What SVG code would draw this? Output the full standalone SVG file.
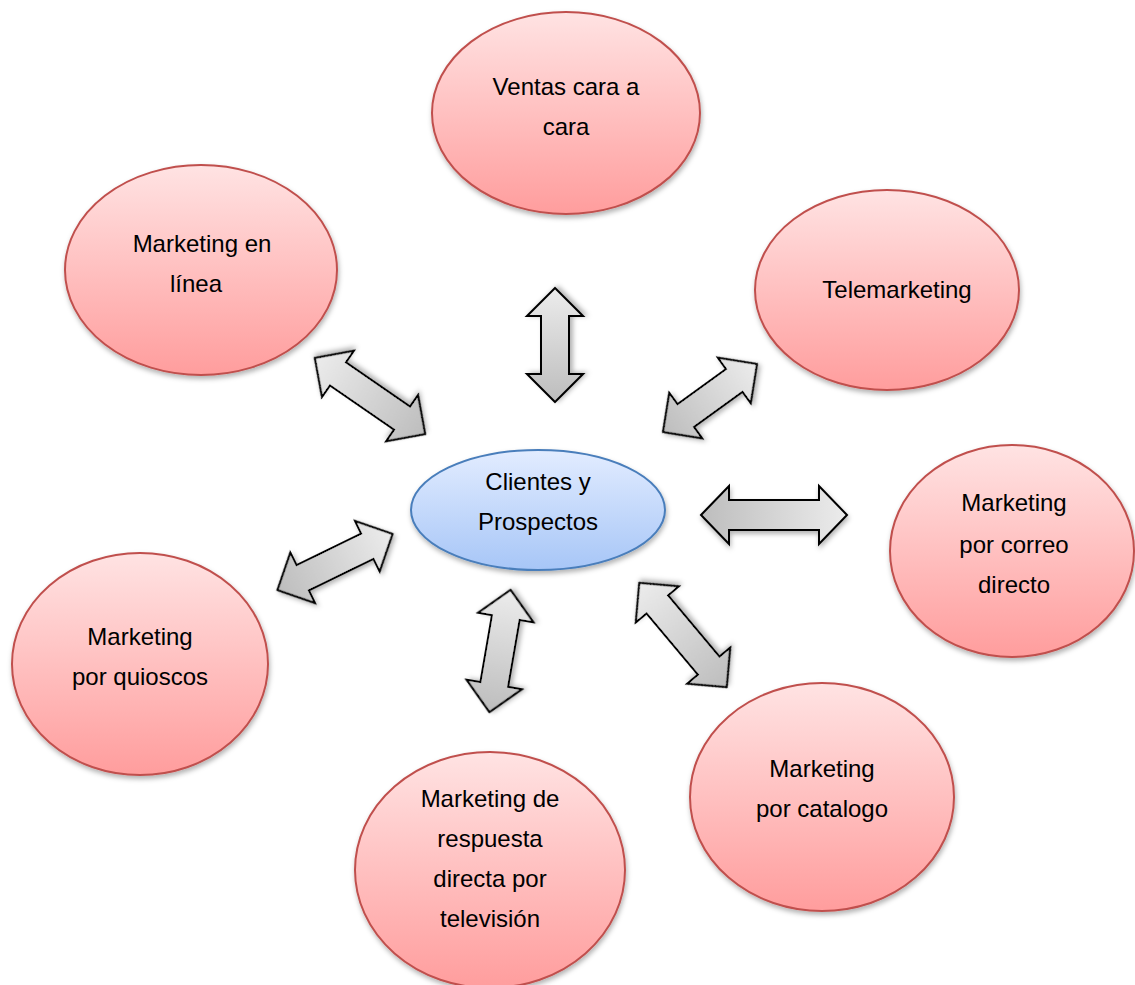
<svg xmlns="http://www.w3.org/2000/svg" width="1135" height="985" viewBox="0 0 1135 985">
<defs>
<linearGradient id="gRed" x1="0" y1="0" x2="0" y2="1">
<stop offset="0" stop-color="#ffe3e3"/>
<stop offset="1" stop-color="#ff9d9d"/>
</linearGradient>
<linearGradient id="gBlue" x1="0" y1="0" x2="0" y2="1">
<stop offset="0" stop-color="#e2ecff"/>
<stop offset="1" stop-color="#a7c6f7"/>
</linearGradient>
<linearGradient id="gArrow" x1="1" y1="0" x2="0" y2="0">
<stop offset="0" stop-color="#ececec"/>
<stop offset="1" stop-color="#bdbdbd"/>
</linearGradient>
<filter id="sh" x="-20%" y="-20%" width="140%" height="140%">
<feDropShadow dx="1" dy="3" stdDeviation="2.5" flood-color="#000" flood-opacity="0.3"/>
</filter>
</defs>
<style>
.red{fill:url(#gRed);stroke:#c0504d;stroke-width:2;filter:url(#sh)}
.blue{fill:url(#gBlue);stroke:#4a7ebb;stroke-width:2;filter:url(#sh)}
.arr{fill:url(#gArrow);stroke:#000;stroke-width:2;stroke-linejoin:miter;filter:url(#sh)}
text{font-family:"Liberation Sans",Arial,sans-serif;font-size:24px;fill:#000;text-anchor:middle}
</style>
<g id="connectors">
<path class="arr" transform="translate(555,345) rotate(-90)" d="M-57,0 L-29,-28 L-29,-14 L29,-14 L29,-28 L57,0 L29,28 L29,14 L-29,14 L-29,28 Z"/>
<path class="arr" transform="translate(370,396) rotate(214.6)" d="M-67,0 L-39,-28 L-39,-14 L39,-14 L39,-28 L67,0 L39,28 L39,14 L-39,14 L-39,28 Z"/>
<path class="arr" transform="translate(710,398) rotate(-35.9)" d="M-58,0 L-30,-28 L-30,-14 L30,-14 L30,-28 L58,0 L30,28 L30,14 L-30,14 L-30,28 Z"/>
<path class="arr" transform="translate(774,515)" d="M-73,0 L-45,-29 L-45,-15 L45,-15 L45,-29 L73,0 L45,29 L45,15 L-45,15 L-45,29 Z"/>
<path class="arr" transform="translate(335,562) rotate(-26)" d="M-64,0 L-36,-28 L-36,-14 L36,-14 L36,-28 L64,0 L36,28 L36,14 L-36,14 L-36,28 Z"/>
<path class="arr" transform="translate(500,651) rotate(-80.2)" d="M-62,0 L-34,-28 L-34,-14 L34,-14 L34,-28 L62,0 L34,28 L34,14 L-34,14 L-34,28 Z"/>
<path class="arr" transform="translate(683,635) rotate(230)" d="M-68,0 L-40,-28 L-40,-14 L40,-14 L40,-28 L68,0 L40,28 L40,14 L-40,14 L-40,28 Z"/>
</g>
<g id="ventas">
<ellipse class="red" cx="566" cy="113" rx="134" ry="101"/>
<text x="566" y="95">Ventas cara a</text>
<text x="566" y="135">cara</text>
</g>
<g id="online">
<ellipse class="red" cx="201" cy="270" rx="136" ry="105"/>
<text x="202" y="252">Marketing en</text>
<text x="196" y="292">línea</text>
</g>
<g id="telemarketing">
<ellipse class="red" cx="887" cy="290" rx="132" ry="100"/>
<text x="897" y="298">Telemarketing</text>
</g>
<g id="clientes">
<ellipse class="blue" cx="538" cy="510" rx="127" ry="60"/>
<text x="538" y="490">Clientes y</text>
<text x="538" y="530">Prospectos</text>
</g>
<g id="correo">
<ellipse class="red" cx="1012" cy="551" rx="122" ry="106"/>
<text x="1014" y="511">Marketing</text>
<text x="1014" y="553">por correo</text>
<text x="1014" y="593">directo</text>
</g>
<g id="quioscos">
<ellipse class="red" cx="140" cy="664" rx="128" ry="111"/>
<text x="140" y="645">Marketing</text>
<text x="140" y="685">por quioscos</text>
</g>
<g id="catalogo">
<ellipse class="red" cx="822" cy="797" rx="132" ry="114"/>
<text x="822" y="777">Marketing</text>
<text x="822" y="817">por catalogo</text>
</g>
<g id="television">
<ellipse class="red" cx="490" cy="870" rx="135" ry="118"/>
<text x="490" y="807">Marketing de</text>
<text x="490" y="847">respuesta</text>
<text x="490" y="887">directa por</text>
<text x="490" y="927">televisión</text>
</g>
</svg>
